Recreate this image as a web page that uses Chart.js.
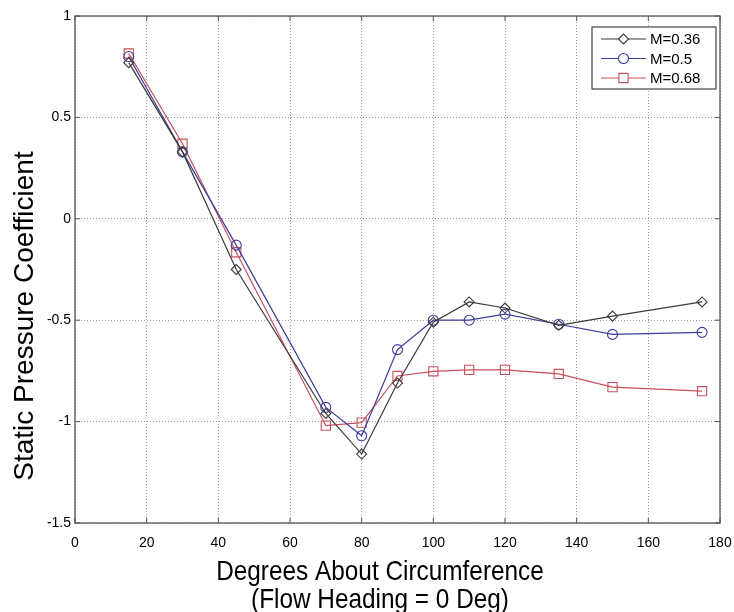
<!DOCTYPE html>
<html>
<head>
<meta charset="utf-8">
<script src="https://cdn.jsdelivr.net/npm/chart.js@4.4.1/dist/chart.umd.min.js"></script>
<style>
  html, body { margin: 0; padding: 0; background: #fff; }
  #wrap { width: 734px; height: 612px; }
</style>
</head>
<body>
<div id="wrap"><canvas id="c" width="734" height="612"></canvas></div>
<script>
// ---- data ----
const angles = [15, 30, 45, 70, 80, 90, 100, 110, 120, 135, 150, 175];
const cpM036 = [0.77, 0.33, -0.25, -0.96, -1.16, -0.81, -0.51, -0.41, -0.44, -0.525, -0.48, -0.41];
const cpM050 = [0.80, 0.33, -0.13, -0.93, -1.07, -0.645, -0.50, -0.50, -0.47, -0.52, -0.57, -0.56];
const cpM068 = [0.815, 0.37, -0.165, -1.02, -1.005, -0.775, -0.752, -0.745, -0.745, -0.765, -0.83, -0.85];
const seriesNames = ['M=0.36', 'M=0.5', 'M=0.68'];
const xTitle = ['Degrees About Circumference', '(Flow Heading = 0 Deg)'];
const yTitle = 'Static Pressure Coefficient';
const xRange = [0, 180, 20];
const yRange = [-1.5, 1, 0.5];

const FONT = "'Liberation Sans', Arial, Helvetica, sans-serif";
const colors = ['#3a3a3a', '#3c3c9c', '#c8505c'];
const styles = ['rectRot', 'circle', 'rect'];
const radii = [5, 5, 6.5];

function pts(ys) { return angles.map((a, i) => ({ x: a, y: ys[i] })); }

const datasets = [cpM036, cpM050, cpM068].map((ys, i) => ({
  label: seriesNames[i],
  data: pts(ys),
  showLine: true,
  borderColor: colors[i],
  borderWidth: 1.2,
  pointStyle: styles[i],
  pointRadius: radii[i],
  pointBorderColor: colors[i],
  pointBackgroundColor: 'rgba(255,255,255,0)',
  pointBorderWidth: 1.1,
  tension: 0
}));

// axis titles (slightly condensed, as in the source figure)
const titlePlugin = {
  id: 'titles',
  afterDraw(chart) {
    const { ctx } = chart;
    ctx.save();
    ctx.fillStyle = '#000';
    ctx.font = '28px ' + FONT;
    ctx.textAlign = 'center';
    ctx.textBaseline = 'alphabetic';
    const cx = 380, sx = 0.87;
    [580, 608].forEach((by, i) => {
      ctx.save();
      ctx.translate(cx, by);
      ctx.scale(sx, 1);
      ctx.fillText(xTitle[i], 0, 0);
      ctx.restore();
    });
    ctx.save();
    ctx.translate(33, 316);
    ctx.rotate(-Math.PI / 2);
    ctx.fillText(yTitle, 0, 0);
    ctx.restore();
    ctx.restore();
  }
};

// frame + inward ticks + boxed legend
const framePlugin = {
  id: 'frame',
  afterDatasetsDraw(chart) {
    const { ctx, chartArea: a, scales } = chart;
    ctx.save();
    ctx.strokeStyle = '#555';
    ctx.lineWidth = 1.3;
    ctx.strokeRect(a.left, a.top, a.right - a.left, a.bottom - a.top);
    ctx.lineWidth = 1;
    const tl = 5;
    scales.x.ticks.forEach(t => {
      const px = scales.x.getPixelForValue(t.value);
      ctx.beginPath();
      ctx.moveTo(px, a.bottom); ctx.lineTo(px, a.bottom - tl);
      ctx.moveTo(px, a.top); ctx.lineTo(px, a.top + tl);
      ctx.stroke();
    });
    scales.y.ticks.forEach(t => {
      const py = scales.y.getPixelForValue(t.value);
      ctx.beginPath();
      ctx.moveTo(a.left, py); ctx.lineTo(a.left + tl, py);
      ctx.moveTo(a.right, py); ctx.lineTo(a.right - tl, py);
      ctx.stroke();
    });

    const bx = a.right - 128, by = a.top + 11, bw = 124, bh = 62;
    ctx.fillStyle = '#fff';
    ctx.fillRect(bx, by, bw, bh);
    ctx.strokeStyle = '#444';
    ctx.lineWidth = 1.2;
    ctx.strokeRect(bx, by, bw, bh);
    ctx.font = '15px ' + FONT;
    ctx.textBaseline = 'middle';
    ctx.textAlign = 'left';
    chart.data.datasets.forEach((ds, i) => {
      const y = by + 12 + i * 19.5;
      const x0 = bx + 9, x1 = bx + 54, xm = (x0 + x1) / 2;
      ctx.strokeStyle = ds.borderColor;
      ctx.lineWidth = ds.borderWidth;
      ctx.beginPath(); ctx.moveTo(x0, y); ctx.lineTo(x1, y); ctx.stroke();
      ctx.fillStyle = '#fff';
      ctx.lineWidth = ds.pointBorderWidth;
      Chart.helpers.drawPoint(ctx, {
        pointStyle: ds.pointStyle, radius: ds.pointRadius, borderWidth: ds.pointBorderWidth, rotation: 0
      }, xm, y);
      ctx.fillStyle = '#000';
      ctx.fillText(ds.label, bx + 58, y + 1);
    });
    ctx.restore();
  }
};

new Chart(document.getElementById('c'), {
  type: 'scatter',
  data: { datasets },
  options: {
    responsive: false,
    animation: false,
    devicePixelRatio: 1,
    layout: { padding: { left: 0, right: 14, top: 16, bottom: 0 } },
    plugins: { legend: { display: false }, tooltip: { enabled: false } },
    scales: {
      x: {
        type: 'linear',
        min: xRange[0], max: xRange[1],
        afterFit(s) { s.height = 89; s.paddingRight = 0; s.paddingLeft = 0; },
        ticks: {
          stepSize: xRange[2],
          font: { family: FONT, size: 14 },
          color: '#000',
          padding: 12,
          maxRotation: 0,
          callback: v => String(Math.round(v))
        },
        grid: { color: '#a0a0a0', lineWidth: 1, drawTicks: false },
        border: { display: false, dash: [1, 2] },
        title: { display: false }
      },
      y: {
        type: 'linear',
        min: yRange[0], max: yRange[1],
        afterFit(s) { s.width = 75; s.paddingTop = 0; s.paddingBottom = 0; },
        ticks: {
          stepSize: yRange[2],
          font: { family: FONT, size: 14 },
          color: '#000',
          padding: 4,
          callback: v => String(Math.round(v * 100) / 100)
        },
        grid: { color: '#a0a0a0', lineWidth: 1, drawTicks: false },
        border: { display: false, dash: [1, 2] },
        title: { display: false }
      }
    }
  },
  plugins: [framePlugin, titlePlugin]
});
</script>
</body>
</html>
